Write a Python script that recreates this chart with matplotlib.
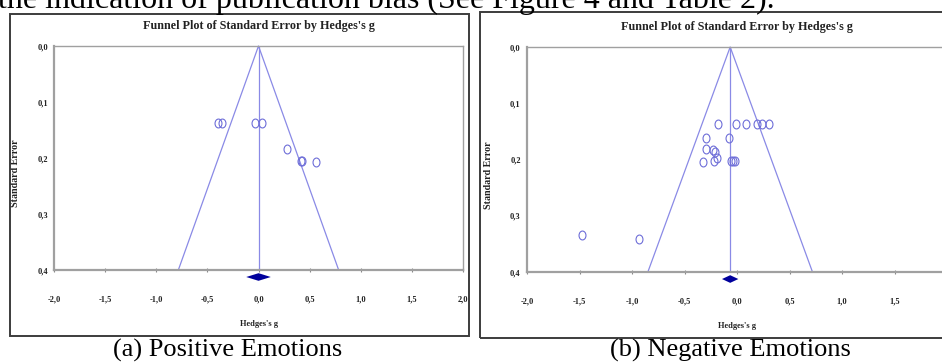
import matplotlib
matplotlib.use("Agg")
import matplotlib.pyplot as plt
from matplotlib.patches import Rectangle
from matplotlib.markers import MarkerStyle
from matplotlib.transforms import Affine2D

# ---------------- data ----------------
x_ticks = [-2.0, -1.5, -1.0, -0.5, 0.0, 0.5, 1.0, 1.5, 2.0]
y_ticks = [0.0, 0.1, 0.2, 0.3, 0.4]
x_tick_labels = ["-2,0", "-1,5", "-1,0", "-0,5", "0,0", "0,5", "1,0", "1,5", "2,0"]
y_tick_labels = ["0,0", "0,1", "0,2", "0,3", "0,4"]

# (a) Positive emotions
g_pos = [-0.40, -0.36, -0.03, 0.03, 0.28, 0.42, 0.43, 0.56]
se_pos = [0.138, 0.138, 0.138, 0.138, 0.184, 0.205, 0.205, 0.207]
mean_pos = 0.0
ci_half_pos = 0.12

# (b) Negative emotions
g_neg = [-0.178, -0.01, 0.083, 0.187, 0.24, 0.30,
         -0.295, -0.073, -0.30, -0.226, -0.206, -0.187, -0.216, -0.32,
         -0.06, -0.035, -0.02, -1.48, -0.93]
se_neg = [0.137, 0.137, 0.137, 0.137, 0.137, 0.137,
          0.162, 0.161, 0.181, 0.183, 0.186, 0.198, 0.203, 0.204,
          0.203, 0.203, 0.203, 0.335, 0.342]
mean_neg = -0.065
ci_half_neg = 0.078

se_max = 0.4
z = 1.96

title = "Funnel Plot of Standard Error by Hedges's g"
xlabel = "Hedges's g"
ylabel = "Standard Error"
captions = ["(a) Positive Emotions", "(b) Negative Emotions"]
top_text = "the indication of publication bias (See Figure 4 and Table 2)."

# ---------------- style ----------------
W, H = 942, 363
fig = plt.figure(figsize=(W / 100, H / 100), dpi=100)
serif = ["Liberation Serif", "DejaVu Serif"]
line_c = "#8a8ae6"
pt_c = "#6e6ed8"
dia_c = "#00009c"
spine_c = "#a0a0a0"


def fx(px):
    return px / W


def fy(py):
    return 1 - py / H


def make_axes(left, right, top, bottom):
    return fig.add_axes([fx(left), fy(bottom), (right - left) / W, (bottom - top) / H])


marker = MarkerStyle("o", transform=Affine2D().scale(0.78, 1.0))


def draw_panel(ax, g, se, mean, ci_half, box, ylab_x, axh):
    ax.set_xlim(-2, 2)
    ax.set_ylim(0.4, 0.0)
    for s in ax.spines.values():
        s.set_color(spine_c)
        s.set_linewidth(1.0)
    ax.spines["bottom"].set_linewidth(1.6)
    ax.spines["left"].set_linewidth(1.6)
    ax.set_xticks(x_ticks)
    ax.set_xticklabels(x_tick_labels)
    ax.set_yticks(y_ticks)
    ax.set_yticklabels(y_tick_labels)
    ax.tick_params(axis="x", direction="inout", length=3, width=0.8, color="#888888",
                   pad=17, labelsize=6)
    ax.tick_params(axis="y", length=0, pad=4.5, labelsize=6)
    for lab in ax.get_xticklabels() + ax.get_yticklabels():
        lab.set_fontfamily(serif)
        lab.set_fontweight("bold")
        lab.set_color("#222222")
    # funnel
    ax.plot([mean - z * se_max, mean, mean + z * se_max], [se_max, 0, se_max],
            color=line_c, lw=0.9, clip_on=False)
    ax.plot([mean, mean], [0, se_max], color=line_c, lw=0.9)
    # studies
    ax.plot(g, se, linestyle="none", marker=marker, markersize=6.4,
            markerfacecolor="none", markeredgecolor=pt_c, markeredgewidth=0.8)
    # summary diamond
    yd = se_max + 0.0125
    hd = 0.0068
    ax.fill([mean - ci_half, mean, mean + ci_half, mean],
            [yd, yd - hd, yd, yd + hd], color=dia_c, clip_on=False, lw=0)
    ax.text(0.5, 1 + 20 / axh, title, transform=ax.transAxes, ha="center", va="center",
            fontsize=8.7, fontweight="bold", family=serif, color="#222222")
    ax.set_xlabel(xlabel, fontsize=6, fontweight="bold", family=serif, color="#222222")
    ax.xaxis.set_label_coords(0.5, -50 / axh)
    ax.set_ylabel(ylabel, fontsize=7.2, fontweight="bold", family=serif, color="#222222")
    ax.yaxis.set_label_coords(ylab_x, 0.43)
    # outer box
    l, t, r, b = box
    fig.patches.append(Rectangle((fx(l), fy(b)), (r - l) / W, (b - t) / H,
                                 transform=fig.transFigure, fill=False,
                                 edgecolor="#3c3c3c", lw=1.4))


ax1 = make_axes(54, 463, 46, 270)
draw_panel(ax1, g_pos, se_pos, mean_pos, ci_half_pos, (10, 14, 469, 336), -34 / 409, 224)

ax2 = make_axes(527, 947, 47, 272)
draw_panel(ax2, g_neg, se_neg, mean_neg, ci_half_neg, (480, 12, 960, 338), -34 / 420, 225)

fig.text(fx(228), fy(350), captions[0], ha="center", va="center", fontsize=19, family=serif)
fig.text(fx(730), fy(350), captions[1], ha="center", va="center", fontsize=19, family=serif)
fig.text(fx(-2), fy(8), top_text, ha="left", va="baseline", fontsize=23, family=serif)

fig.savefig("out.png", dpi=100)
